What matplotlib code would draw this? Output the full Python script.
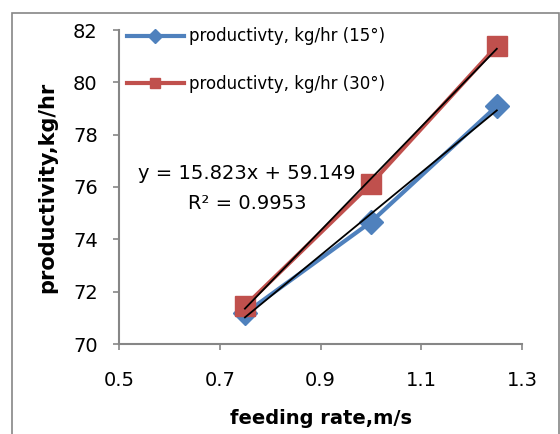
import numpy as np
import matplotlib
matplotlib.use("Agg")
import matplotlib.pyplot as plt
from matplotlib.patches import Rectangle

# Data
feeding_rate = [0.75, 1.0, 1.25]
prod_15 = [71.17, 74.66, 79.09]
prod_30 = [71.45, 76.12, 81.38]
series_labels = ["productivty, kg/hr (15°)", "productivty, kg/hr (30°)"]
trend_slope_15 = 15.823
trend_intercept_15 = 59.149
r2_15 = 0.9953
x_ticks = [0.5, 0.7, 0.9, 1.1, 1.3]
y_ticks = [70, 72, 74, 76, 78, 80, 82]

BLUE = "#4F81BD"
RED = "#C0504D"
GRAY = "#868686"

plt.rcParams["font.family"] = ["DejaVu Sans"]

fig = plt.figure(figsize=(5.6, 4.34), dpi=100)
ax = fig.add_axes([119 / 560, 1 - 344 / 434, (522 - 119) / 560, (344 - 30) / 434])

# outer chart frame
fig.patches.append(Rectangle((12 / 560, -0.05), (559 - 12) / 560, 1.05 - 13 / 434,
                             transform=fig.transFigure, fill=False,
                             edgecolor=GRAY, linewidth=1.2))

ax.plot(feeding_rate, prod_15, color=BLUE, lw=3, marker="D", ms=12.5,
        label=series_labels[0], zorder=3)
ax.plot(feeding_rate, prod_30, color=RED, lw=3, marker="s", ms=14,
        label=series_labels[1], zorder=3)

# linear trend lines
xs = np.array([feeding_rate[0], feeding_rate[-1]])
ax.plot(xs, trend_slope_15 * xs + trend_intercept_15, color="black", lw=1.3, zorder=4)
k30, b30 = np.polyfit(feeding_rate, prod_30, 1)
ax.plot(xs, k30 * xs + b30, color="black", lw=1.3, zorder=4)

ax.text(0.754, 76.52, f"y = {trend_slope_15:.3f}x + {trend_intercept_15:.3f}",
        ha="center", va="center", fontsize=14)
ax.text(0.754, 75.37, f"R² = {r2_15:.4f}", ha="center", va="center", fontsize=14)

ax.set_xlim(0.5, 1.3)
ax.set_ylim(70, 82)
ax.set_xticks(x_ticks)
ax.set_yticks(y_ticks)
ax.set_xticklabels([f"{v:.1f}" for v in x_ticks])
ax.tick_params(direction="out", length=4.3, width=1.2, color=GRAY, labelsize=14)
ax.tick_params(axis="x", pad=15)
ax.tick_params(axis="y", pad=11)

for side in ("top", "right"):
    ax.spines[side].set_visible(False)
for side in ("left", "bottom"):
    ax.spines[side].set_color(GRAY)
    ax.spines[side].set_linewidth(1.5)

ax.set_xlabel("feeding rate,m/s", fontsize=14, fontweight="bold", labelpad=14)
ax.set_ylabel("productivity,kg/hr", fontsize=15, fontweight="bold", labelpad=11)

leg = ax.legend(loc="upper left", bbox_to_anchor=(0.02, 1.008), frameon=False,
                fontsize=12, handlelength=3.4, handletextpad=0.3,
                labelspacing=1.78, borderpad=0, borderaxespad=0, markerscale=0.55)

fig.savefig("out.png", dpi=100)
